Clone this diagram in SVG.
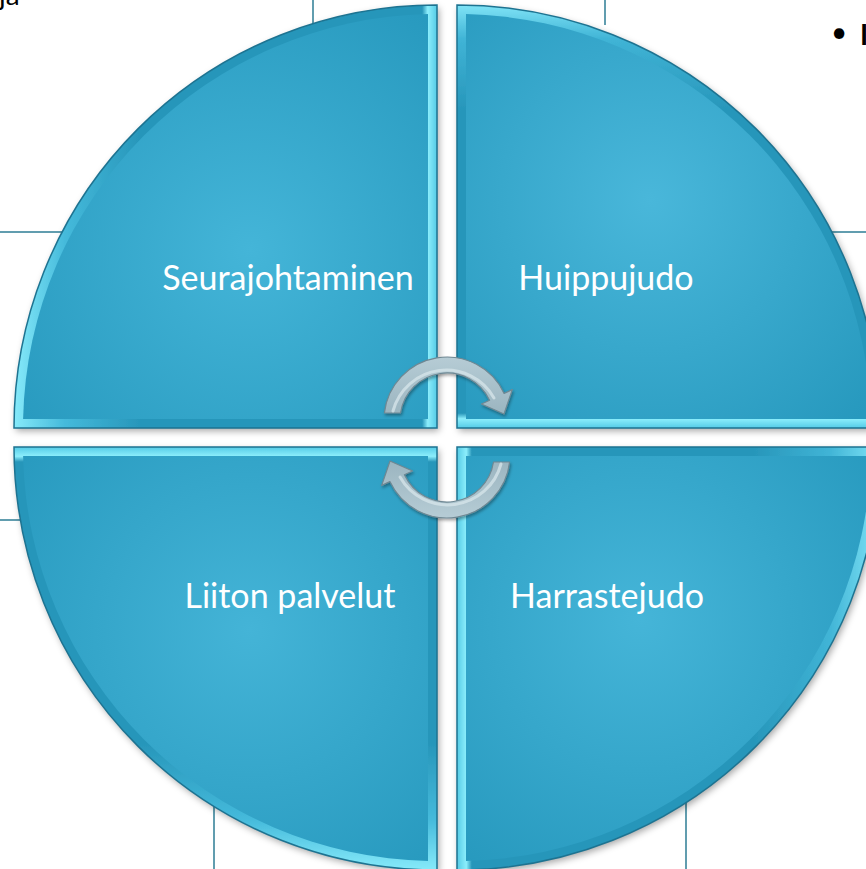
<svg xmlns="http://www.w3.org/2000/svg" width="866" height="869" viewBox="0 0 866 869">
<style>
.bg{stroke:#2C7C95;stroke-width:1.5;fill:none}
.outline{fill:none;stroke:#1D7391;stroke-width:1.5}
.lbl{font-family:Lato,"Open Sans","Liberation Sans",sans-serif;font-size:34px;fill:#FFFFFF;text-anchor:middle}
.blk{font-family:Lato,"Open Sans","Liberation Sans",sans-serif;font-size:28px;fill:#000000}
.arrow{fill:url(#arrG);stroke:#6F8893;stroke-width:1.2;stroke-linejoin:round}
.arrowHi{fill:none;stroke:#D4E3E9;stroke-width:3;stroke-linecap:round;opacity:0.8}
</style>
<defs>
<filter id="sh" x="-10%" y="-10%" width="120%" height="120%">
<feDropShadow dx="2" dy="3" stdDeviation="3.5" flood-color="#000" flood-opacity="0.35"/>
</filter>
<filter id="ash" x="-20%" y="-20%" width="140%" height="140%">
<feDropShadow dx="1" dy="2" stdDeviation="1.5" flood-color="#000" flood-opacity="0.35"/>
</filter>
<linearGradient id="bTL" gradientUnits="userSpaceOnUse" x1="14" y1="0" x2="437" y2="0">
<stop offset="0" stop-color="#86EAFA"/><stop offset="0.12" stop-color="#45BADB"/><stop offset="0.3" stop-color="#2796BA"/><stop offset="0.965" stop-color="#2796BA"/><stop offset="0.978" stop-color="#8CEEFC"/><stop offset="1" stop-color="#55CBE6"/>
</linearGradient>
<linearGradient id="bTR" gradientUnits="userSpaceOnUse" x1="0" y1="5" x2="0" y2="428">
<stop offset="0" stop-color="#7FE3F6"/><stop offset="0.08" stop-color="#40B4D6"/><stop offset="0.25" stop-color="#2796BA"/><stop offset="0.965" stop-color="#2796BA"/><stop offset="0.978" stop-color="#8CEEFC"/><stop offset="1" stop-color="#55CBE6"/>
</linearGradient>
<linearGradient id="bBR" gradientUnits="userSpaceOnUse" x1="880" y1="0" x2="457" y2="0">
<stop offset="0" stop-color="#7FE3F6"/><stop offset="0.12" stop-color="#40B4D6"/><stop offset="0.3" stop-color="#2796BA"/><stop offset="0.965" stop-color="#2796BA"/><stop offset="0.978" stop-color="#8CEEFC"/><stop offset="1" stop-color="#55CBE6"/>
</linearGradient>
<linearGradient id="bBL" gradientUnits="userSpaceOnUse" x1="0" y1="870" x2="0" y2="447">
<stop offset="0" stop-color="#86EAFA"/><stop offset="0.12" stop-color="#45BADB"/><stop offset="0.3" stop-color="#2796BA"/><stop offset="0.965" stop-color="#2796BA"/><stop offset="0.978" stop-color="#8CEEFC"/><stop offset="1" stop-color="#55CBE6"/>
</linearGradient>
<radialGradient id="fTL" gradientUnits="userSpaceOnUse" cx="250" cy="250" r="300">
<stop offset="0" stop-color="#44B5D8"/><stop offset="1" stop-color="#2799BE"/>
</radialGradient>
<radialGradient id="fTR" gradientUnits="userSpaceOnUse" cx="650" cy="200" r="300">
<stop offset="0" stop-color="#49B7DA"/><stop offset="1" stop-color="#2799BE"/>
</radialGradient>
<radialGradient id="fBR" gradientUnits="userSpaceOnUse" cx="640" cy="620" r="300">
<stop offset="0" stop-color="#45B5D8"/><stop offset="1" stop-color="#2799BE"/>
</radialGradient>
<radialGradient id="fBL" gradientUnits="userSpaceOnUse" cx="250" cy="630" r="300">
<stop offset="0" stop-color="#44B4D7"/><stop offset="1" stop-color="#2799BE"/>
</radialGradient>
<linearGradient id="arrG" x1="0" y1="0" x2="0" y2="1">
<stop offset="0" stop-color="#B6CCD5"/><stop offset="1" stop-color="#9BB5C0"/>
</linearGradient>
<path id="arrowShape" d="M 384.4 413 A 63 63 0 0 1 504.1 393.4 L 512.3 389.6 L 504 414 L 481.4 404 L 489.6 400.2 A 47 47 0 0 0 400.5 413 Z"/>
</defs>

<rect x="0" y="0" width="866" height="869" fill="#FFFFFF"/>

<g id="background">
<line class="bg" x1="0" y1="232" x2="65" y2="232"/>
<line class="bg" x1="0" y1="520" x2="25" y2="520"/>
<line class="bg" x1="828" y1="232" x2="866" y2="232"/>
<line class="bg" x1="313" y1="0" x2="313" y2="25"/>
<line class="bg" x1="605" y1="0" x2="605" y2="25"/>
<line class="bg" x1="214" y1="795" x2="214" y2="869"/>
<line class="bg" x1="686" y1="795" x2="686" y2="869"/>
<text class="blk" x="-1" y="5">ja</text>
<text class="blk" x="831" y="42">•</text>
<text class="blk" x="860" y="45" font-weight="bold">I</text>
</g>

<g id="seurajohtaminen">
<path d="M 437 428 L 14 428 A 423 423 0 0 1 437 5 Z" fill="url(#bTL)" filter="url(#sh)"/>
<path d="M 428 419 L 23.1 419 A 414 414 0 0 1 428 14.1 Z" fill="url(#fTL)"/>
<path class="outline" d="M 437 428 L 14 428 A 423 423 0 0 1 437 5 Z"/>
<text class="lbl" x="288" y="290">Seurajohtaminen</text>
</g>

<g id="huippujudo">
<path d="M 457 428 L 457 5 A 423 423 0 0 1 880 428 Z" fill="url(#bTR)" filter="url(#sh)"/>
<path d="M 466 419 L 466 14.1 A 414 414 0 0 1 870.9 419 Z" fill="url(#fTR)"/>
<path class="outline" d="M 457 428 L 457 5 A 423 423 0 0 1 880 428 Z"/>
<text class="lbl" x="606" y="290">Huippujudo</text>
</g>

<g id="harrastejudo">
<path d="M 457 447 L 880 447 A 423 423 0 0 1 457 870 Z" fill="url(#bBR)" filter="url(#sh)"/>
<path d="M 466 456 L 870.9 456 A 414 414 0 0 1 466 860.9 Z" fill="url(#fBR)"/>
<path class="outline" d="M 457 447 L 880 447 A 423 423 0 0 1 457 870 Z"/>
<text class="lbl" x="607" y="608">Harrastejudo</text>
</g>

<g id="liiton-palvelut">
<path d="M 437 447 L 437 870 A 423 423 0 0 1 14 447 Z" fill="url(#bBL)" filter="url(#sh)"/>
<path d="M 428 456 L 428 860.9 A 414 414 0 0 1 23.1 456 Z" fill="url(#fBL)"/>
<path class="outline" d="M 437 447 L 437 870 A 423 423 0 0 1 14 447 Z"/>
<text class="lbl" x="290" y="608">Liiton palvelut</text>
</g>

<g id="connectors">
<g filter="url(#ash)">
<use href="#arrowShape" class="arrow"/>
<use href="#arrowShape" class="arrow" transform="rotate(180 447 437.5)"/>
</g>
<path class="arrowHi" d="M 393 411 A 55 55 0 0 1 494 398"/>
<path class="arrowHi" d="M 393 411 A 55 55 0 0 1 494 398" transform="rotate(180 447 437.5)"/>
</g>
</svg>
